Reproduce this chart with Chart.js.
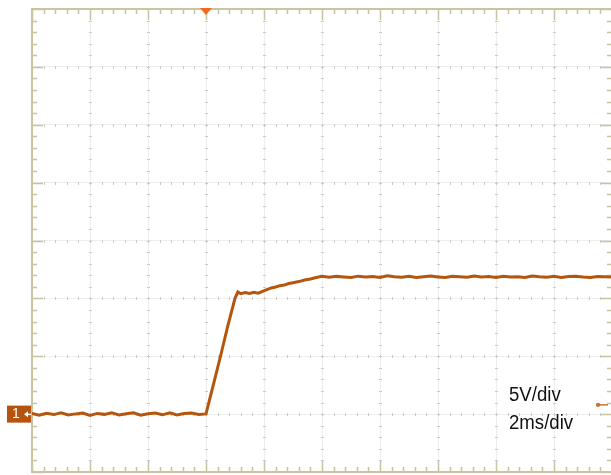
<!DOCTYPE html>
<html>
<head>
<meta charset="utf-8">
<script src="https://cdn.jsdelivr.net/npm/chart.js@4/dist/chart.umd.min.js"></script>
<style>
  html, body { margin: 0; padding: 0; background: #ffffff; overflow: hidden; }
  #wrap { position: relative; width: 611px; height: 475px; overflow: hidden; }
  canvas { display: block; }
  .scale-label { position: absolute; font-family: "Liberation Sans", Arial, sans-serif; font-size: 20px; line-height: 20px; color: #111; transform: scaleX(0.93); transform-origin: left top; white-space: nowrap; }
  #ch1 { position: absolute; left: 8px; top: 405px; width: 16px; height: 17px; color: #fff; font-family: "Liberation Sans", Arial, sans-serif; font-size: 14px; line-height: 17px; text-align: center; }
</style>
</head>
<body>
<div id="wrap">
  <canvas id="c" width="614" height="475"></canvas>
  <div class="scale-label" style="left:509px; top:384px;">5V/div</div>
  <div class="scale-label" style="left:509px; top:412px;">2ms/div</div>
  <div id="ch1">1</div>
</div>
<script>
// Time axis (ms) divisions and voltage axis (V) divisions
const xDivisions = [0, 2, 4, 6, 8, 10, 12, 14, 16, 18, 20];
const yDivisions = [-5, 0, 5, 10, 15, 20, 25, 30, 35];
const triggerTime = 6;      // ms (orange marker at top)
const triggerLevel = 0.8;   // V (marker at right edge)
const channelZero = 0;      // V (channel 1 ground marker)

// Trace: time (ms) and voltage (V)
const timesMs = [
  0, 0.25, 0.5, 0.75, 1.0, 1.25, 1.5, 1.75, 2.0, 2.25,
  2.5, 2.75, 3.0, 3.25, 3.5, 3.75, 4.0, 4.25, 4.5, 4.75,
  5.0, 5.25, 5.5, 5.75, 6.0,
  6.25, 6.5, 6.75, 7.0, 7.1,
  7.2, 7.35, 7.5, 7.65, 7.8, 7.95,
  8.1, 8.25, 8.4, 8.55, 8.7, 8.85, 9.0, 9.2, 9.4, 9.6, 9.8, 10.0,
  10.25, 10.5, 10.75, 11.0, 11.25, 11.5, 11.75, 12.0, 12.25, 12.5,
  12.75, 13.0, 13.25, 13.5, 13.75, 14.0, 14.25, 14.5, 14.75, 15.0,
  15.25, 15.5, 15.75, 16.0, 16.25, 16.5, 16.75, 17.0, 17.25, 17.5,
  17.75, 18.0, 18.25, 18.5, 18.75, 19.0, 19.25, 19.5, 19.75, 20.0
];
const volts = [
  0.05, -0.10, 0.08, -0.04, 0.12, -0.08, 0.02, 0.10, -0.12, 0.06,
  -0.02, 0.11, -0.07, 0.04, 0.12, -0.10, 0.03, 0.09, -0.06, 0.12,
  -0.08, 0.05, 0.10, -0.04, 0.02,
  2.5, 5.0, 7.6, 10.0, 10.55,
  10.40, 10.50, 10.42, 10.52, 10.45, 10.60,
  10.75, 10.90, 10.98, 11.10, 11.15, 11.28, 11.35, 11.45, 11.58, 11.68, 11.80, 11.90,
  11.82, 11.90, 11.85, 11.80, 11.92, 11.84, 11.88, 11.80, 11.95, 11.86,
  11.83, 11.90, 11.80, 11.87, 11.93, 11.84, 11.80, 11.90, 11.86, 11.82,
  11.94, 11.85, 11.88, 11.80, 11.91, 11.84, 11.86, 11.80, 11.93, 11.87,
  11.83, 11.90, 11.81, 11.88, 11.92, 11.85, 11.80, 11.89, 11.86, 11.84
];

const traceColor = '#b5560f';

const scopePlugin = {
  id: 'scope',
  beforeDatasetsDraw(chart) {
    const { ctx, chartArea: a, scales: { x, y } } = chart;
    const xStep = (xDivisions[1] - xDivisions[0]) / 5;
    const yStep = (yDivisions[1] - yDivisions[0]) / 5;
    const xMin = xDivisions[0], xMax = xDivisions[xDivisions.length - 1];
    const yMin = yDivisions[0], yMax = yDivisions[yDivisions.length - 1];
    ctx.save();
    // minor marks along interior grid lines
    ctx.fillStyle = '#cacaca';
    xDivisions.slice(1, -1).forEach(xv => {
      const px = Math.round(x.getPixelForValue(xv));
      for (let v = yMin + yStep; v < yMax - 1e-9; v += yStep) {
        const py = Math.round(y.getPixelForValue(v));
        ctx.fillRect(px - 1, py, 3, 1);
      }
    });
    yDivisions.slice(1, -1).forEach(yv => {
      const py = Math.round(y.getPixelForValue(yv));
      for (let v = xMin + xStep; v < xMax - 1e-9; v += xStep) {
        const px = Math.round(x.getPixelForValue(v));
        ctx.fillRect(px, py - 1, 1, 3);
      }
    });
    // frame
    ctx.strokeStyle = '#c8c3a0';
    ctx.lineWidth = 2;
    ctx.strokeRect(a.left, a.top, a.right - a.left, a.bottom - a.top);
    // edge ticks
    ctx.lineWidth = 1.5;
    ctx.beginPath();
    let i = 0;
    for (let v = xMin; v <= xMax + 1e-9; v += xStep, i++) {
      const px = Math.round(x.getPixelForValue(v)) + 0.5;
      const len = (i % 5 === 0) ? 11 : 5;
      ctx.moveTo(px, a.top); ctx.lineTo(px, a.top + len);
      ctx.moveTo(px, a.bottom); ctx.lineTo(px, a.bottom - len);
    }
    i = 0;
    for (let v = yMin; v <= yMax + 1e-9; v += yStep, i++) {
      const py = Math.round(y.getPixelForValue(v)) + 0.5;
      const len = (i % 5 === 0) ? 11 : 5;
      ctx.moveTo(a.left, py); ctx.lineTo(a.left + len, py);
      ctx.moveTo(a.right, py); ctx.lineTo(a.right - len, py);
    }
    ctx.stroke();
    ctx.restore();
  },
  afterDatasetsDraw(chart) {
    const { ctx, chartArea: a, scales: { x, y } } = chart;
    ctx.save();
    // trigger position marker (top)
    const tx = x.getPixelForValue(triggerTime);
    ctx.fillStyle = '#f26a1f';
    ctx.beginPath();
    ctx.moveTo(tx - 6, a.top - 1);
    ctx.lineTo(tx + 6, a.top - 1);
    ctx.lineTo(tx, a.top + 6);
    ctx.closePath();
    ctx.fill();
    // channel 1 ground marker box with pointer
    const gy = y.getPixelForValue(channelZero);
    ctx.fillStyle = '#b4540f';
    ctx.fillRect(7, gy - 8.5, a.left - 8, 17);
    ctx.fillStyle = '#ffffff';
    ctx.beginPath();
    ctx.moveTo(24, gy); ctx.lineTo(28, gy - 3); ctx.lineTo(28, gy + 3); ctx.closePath(); ctx.fill();
    ctx.fillRect(27, gy - 0.5, 4, 1.5);
    // trigger level marker (right)
    const ly = y.getPixelForValue(triggerLevel);
    ctx.strokeStyle = '#c8732f';
    ctx.fillStyle = '#c8732f';
    ctx.lineWidth = 1.5;
    ctx.beginPath();
    ctx.moveTo(a.right - 14, ly); ctx.lineTo(a.right - 4, ly);
    ctx.stroke();
    ctx.beginPath();
    ctx.arc(a.right - 14, ly, 2.2, 0, Math.PI * 2);
    ctx.fill();
    ctx.restore();
  }
};

new Chart(document.getElementById('c'), {
  type: 'line',
  data: {
    datasets: [{
      data: timesMs.map((t, k) => ({ x: t, y: volts[k] })),
      borderColor: traceColor,
      borderWidth: 3,
      pointRadius: 0,
      tension: 0,
      fill: false
    }]
  },
  options: {
    responsive: false,
    animation: false,
    layout: { padding: { left: 32, right: 2, top: 9, bottom: 3 } },
    plugins: { legend: { display: false }, tooltip: { enabled: false } },
    scales: {
      x: {
        type: 'linear', min: xDivisions[0], max: xDivisions[xDivisions.length - 1],
        ticks: { display: false, stepSize: 2 },
        grid: { color: '#ededed', drawTicks: false, borderDash: [1, 3], lineWidth: 1 },
        border: { display: false }
      },
      y: {
        type: 'linear', min: yDivisions[0], max: yDivisions[yDivisions.length - 1],
        ticks: { display: false, stepSize: 5 },
        grid: { color: '#ededed', drawTicks: false, borderDash: [1, 3], lineWidth: 1 },
        border: { display: false }
      }
    }
  },
  plugins: [scopePlugin]
});
</script>
</body>
</html>
